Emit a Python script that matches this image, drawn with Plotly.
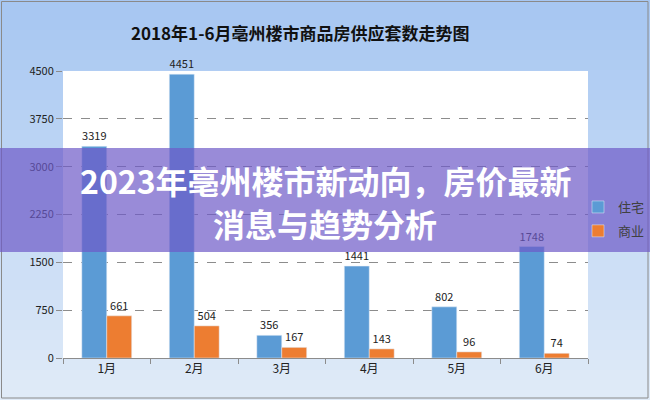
import plotly.graph_objects as go

months = ["1月", "2月", "3月", "4月", "5月", "6月"]
residential = [3319, 4451, 356, 1441, 802, 1748]
commercial = [661, 504, 167, 143, 96, 74]
series_names = ["住宅", "商业"]
y_ticks = [0, 750, 1500, 2250, 3000, 3750, 4500]

W, H = 650, 400
L, R, T, B = 63, 62, 71, 42
pw, ph = W - L - R, H - T - B

def px_x(x):
    return (x - L) / pw

def px_y(y):
    return (H - B - y) / ph

fig = go.Figure()
fig.add_trace(go.Bar(x=months, y=residential, name=series_names[0], marker_color="#5b9bd5",
                     legendgroup="a", text=residential, textposition="outside", cliponaxis=False,
                     textfont=dict(size=11, color="#222222")))
fig.add_trace(go.Bar(x=months, y=commercial, name=series_names[1], marker_color="#ed7d31",
                     legendgroup="b", text=commercial, textposition="outside", cliponaxis=False,
                     textfont=dict(size=11, color="#222222")))

shapes = []
# gradient background
n = 40
top = (167, 199, 242)
bot = (224, 235, 248)
for i in range(n):
    f = i / (n - 1)
    c = tuple(int(top[k] + (bot[k] - top[k]) * f) for k in range(3))
    y0 = i * H / n
    y1 = (i + 1) * H / n + 1
    shapes.append(dict(type="rect", xref="paper", yref="paper", layer="below",
                       x0=px_x(0), x1=px_x(W), y0=px_y(y1), y1=px_y(y0),
                       line=dict(width=0), fillcolor="rgb(%d,%d,%d)" % c))
# white plot area
shapes.append(dict(type="rect", xref="paper", yref="paper", layer="below",
                   x0=0, x1=1, y0=0, y1=1, line=dict(width=0), fillcolor="white"))
# outer border
shapes.append(dict(type="rect", xref="paper", yref="paper", layer="above",
                   x0=px_x(1.5), x1=px_x(648), y0=px_y(398), y1=px_y(1.5),
                   line=dict(width=1, color="#8a8a8a"), fillcolor="rgba(0,0,0,0)"))
# purple banner overlay
shapes.append(dict(type="rect", xref="paper", yref="paper", layer="above",
                   x0=px_x(0), x1=px_x(W), y0=px_y(252), y1=px_y(148),
                   line=dict(width=0), fillcolor="rgba(110,90,200,0.7)"))

annotations = [
    dict(text="2018年1-6月亳州楼市商品房供应套数走势图", xref="paper", yref="paper",
         x=px_x(300), y=px_y(32), showarrow=False, xanchor="center", yanchor="middle",
         font=dict(family="Noto Sans CJK SC", size=17, color="#111111", weight="bold")),
    dict(text="2023年亳州楼市新动向，房价最新", xref="paper", yref="paper",
         x=px_x(326), y=px_y(180), showarrow=False, xanchor="center", yanchor="middle",
         font=dict(family="Noto Sans CJK SC", size=32, color="white", weight="bold")),
    dict(text="消息与趋势分析", xref="paper", yref="paper",
         x=px_x(325), y=px_y(223), showarrow=False, xanchor="center", yanchor="middle",
         font=dict(family="Noto Sans CJK SC", size=32, color="white", weight="bold")),
]

fig.update_layout(
    width=W, height=H,
    margin=dict(l=L, r=R, t=T, b=B, autoexpand=False),
    paper_bgcolor="#dce8f6",
    plot_bgcolor="rgba(0,0,0,0)",
    barmode="group", bargap=0.43, bargroupgap=0,
    font=dict(family="Noto Sans CJK SC", size=11, color="#333333"),
    showlegend=True,
    legend=dict(x=px_x(578), y=px_y(219), xanchor="left", yanchor="middle",
                bgcolor="rgba(0,0,0,0)", font=dict(size=13, color="#404040"),
                tracegroupgap=4, itemwidth=30),
    shapes=shapes,
    annotations=annotations,
    xaxis=dict(showline=True, linecolor="#8c8c8c", ticks="outside", tickson="boundaries",
               tickcolor="#8c8c8c", ticklen=5, showgrid=False,
               tickfont=dict(size=12, color="#222222")),
    yaxis=dict(range=[0, 4500], tickvals=y_ticks, showline=False, showgrid=True,
               gridcolor="#8c8c8c", griddash="dash", gridwidth=1, zeroline=False,
               ticks="outside", ticklen=6, tickcolor="#8c8c8c",
               tickfont=dict(size=11, color="#222222")),
)

fig.write_html("out.html", config={"displayModeBar": False},
               post_script="document.body.style.margin='0';document.body.style.padding='0';")
